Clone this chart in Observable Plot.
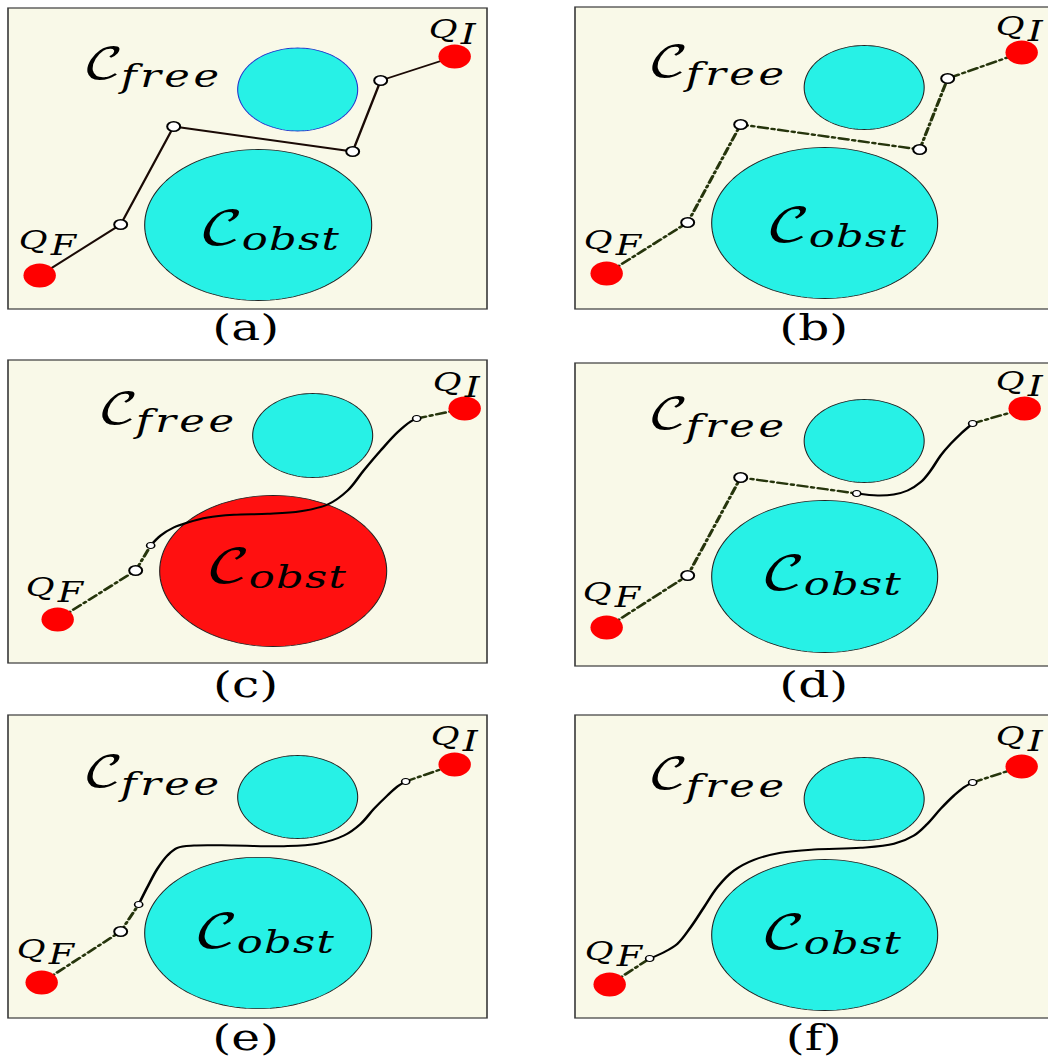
<!DOCTYPE html>
<html><head><meta charset="utf-8">
<script src="https://cdn.jsdelivr.net/npm/d3@7"></script>
<script src="https://cdn.jsdelivr.net/npm/@observablehq/plot@0.6"></script>
<style>html,body{margin:0;padding:0;background:#fff} #chart svg{display:block}</style>
</head><body><div id="chart"></div>
<script>
// ---- figure data (pixel-like coordinates, local to each panel frame) ----
const panelIds = ["a","b","c","d","e","f"];
const panelLeft = [8,575,8,575,8,575];
const panelTop = [8,7,360,363,715,715];
const panelWidth = [479,479,479,479,479,479];
const panelHeight = [301,302,303,303,303,303];
const captionText = ["(a)","(b)","(c)","(d)","(e)","(f)"];
const captionX = [237,238,237,238,237,238];
const captionY = [331,332,336,333,334,334];

const freeCx = [289,288.5,304,288.5,289,288.5];
const freeCy = [81,80,75,77.5,81.5,83.5];
const freeRx = [60,60,60,60,60,60];
const freeRy = [41.5,42,42,41.5,41.5,41.5];
const obstCx = [249.5,249,264.5,249,249.5,249];
const obstCy = [216.5,215.5,210.5,213,217.5,219.5];
const obstRx = [113.5,113,113.5,113,113.5,113];
const obstRy = [75.5,75.5,75.5,76,75.7,75.5];
const obstCollision = [false,false,true,false,false,false];

const qInit = [[446,48],[446,45],[456,48],[449,45],[446,49],[446,51]];
const qFinal = [[31,267],[31,266],[49,259],[31,264],[33,267],[34,269]];

const bigNodes = [
  [[112,216],[165,118],[344,143],[372,72]],
  [[112,215],[165,117],[344,142],[372,71]],
  [[127,210]],
  [[112,212],[165,114]],
  [[112,216]],
  []
];
const smallNodes = [
  [], [],
  [[142,185],[408,58]],
  [[281,130],[397,60]],
  [[130,189],[397,66]],
  [[74,243],[397,67]]
];

const solidPolylines = [
  {panel:0, pts:[[31,267],[112,216],[165,118],[344,143],[372,72],[446,48]]}
];
const dashPolylines = [
  {panel:1, pts:[[31,266],[112,215],[165,117],[344,142],[372,71],[446,45]]},
  {panel:2, pts:[[49,259],[127,210],[142,185]]},
  {panel:2, pts:[[408,58],[456,48]]},
  {panel:3, pts:[[31,264],[112,212],[165,114],[281,130]]},
  {panel:3, pts:[[397,60],[449,45]]},
  {panel:4, pts:[[33,267],[112,216],[130,189]]},
  {panel:4, pts:[[397,66],[446,49]]},
  {panel:5, pts:[[34,269],[74,243]]},
  {panel:5, pts:[[397,67],[446,51]]}
];
const smoothCurves = [
  {panel:2, pts:[[142,185],[152,175],[165,167],[179,162],[199,157],[225,154.3],[259,153.3],[292,150.7],[319,144],[339,130],[355,110],[372,90],[389,71.7],[402,61],[408,58]]},
  {panel:3, pts:[[281,130],[302,132],[318,131],[332,127],[345,118.7],[355,107],[365,92],[375,80.3],[385,70.3],[397,60]]},
  {panel:4, pts:[[130,189],[138.7,171.7],[148.7,153.3],[158.7,140],[168.7,132.3],[185.3,130],[225.3,130],[275.3,130.7],[308.7,128.3],[335.3,120],[352,108.3],[365.3,93.3],[378.7,80],[388.7,71],[397,66]]},
  {panel:5, pts:[[74,243],[88.3,236.7],[101.7,228.3],[115,211.7],[128.3,191.7],[141.7,171.7],[158.3,155],[178.3,144.3],[205,137.3],[238.3,134],[285,132.3],[318.3,128.3],[338.3,120],[351.7,108.3],[365,93.3],[378.3,80],[388.3,71.7],[397,67]]}
];

// label anchors (start x, baseline y)
const freeLabelX = [74,72,89,72,74,72];
const freeLabelY = [70,69,63,65,71,73];
const obstLabelX = [190,190,197,185,185,185];
const obstLabelY = [235,233,221,225,231,232];
const qiLabelX = [420,420,424,420,422,420];
const qiLabelY = [29,27,30,26,29,29];
const qfLabelX = [10,8,17,7,8,9];
const qfLabelY = [240,241,235,237,242,244];

// ---- rendering ----
const SX = 1.35;            // the original figure is stretched horizontally
const W = 1048, H = 1061, PW = W / SX;
const gx = (i, v) => panelLeft[i] + v;
const gy = (i, v) => panelTop[i] + v;

const frames = panelIds.map((id, i) => ({x1: panelLeft[i], x2: panelLeft[i] + panelWidth[i], y1: panelTop[i], y2: panelTop[i] + panelHeight[i]}));

function ellipseRows(cx, cy, rx, ry, keyPrefix, include) {
  const rows = [];
  panelIds.forEach((id, i) => {
    if (include && !include(i)) return;
    const N = 120;
    for (let k = 0; k < N; k++) {
      const t = 2 * Math.PI * k / N;
      rows.push({key: keyPrefix + id, panel: i, x: gx(i, cx[i] + rx[i] * Math.cos(t)), y: gy(i, cy[i] + ry[i] * Math.sin(t))});
    }
  });
  return rows;
}
const freeRows = ellipseRows(freeCx, freeCy, freeRx, freeRy, "free-");
const obstCyan = ellipseRows(obstCx, obstCy, obstRx, obstRy, "obst-", i => !obstCollision[i]);
const obstRed = ellipseRows(obstCx, obstCy, obstRx, obstRy, "obst-", i => obstCollision[i]);

const flatPaths = (list, prefix) => list.flatMap((p, j) => p.pts.map(([x, y]) => ({key: prefix + j, x: gx(p.panel, x), y: gy(p.panel, y)})));
const solidRows = flatPaths(solidPolylines, "s");
const dashRows = flatPaths(dashPolylines, "d");
const curveRows = flatPaths(smoothCurves, "c");

const qRows = panelIds.flatMap((id, i) => [qInit[i], qFinal[i]].map(([x, y]) => ({x: gx(i, x), y: gy(i, y)})));
const bigRows = bigNodes.flatMap((arr, i) => arr.map(([x, y]) => ({x: gx(i, x), y: gy(i, y)})));
const smallRows = smallNodes.flatMap((arr, i) => arr.map(([x, y]) => ({x: gx(i, x), y: gy(i, y)})));

const lab = (xs, ys) => panelIds.map((id, i) => ({x: gx(i, xs[i]), y: gy(i, ys[i])}));
const freeLab = lab(freeLabelX, freeLabelY);
const obstLab = lab(obstLabelX, obstLabelY);
const qiLab = lab(qiLabelX, qiLabelY);
const qfLab = lab(qfLabelX, qfLabelY);
const capRows = panelIds.map((id, i) => ({x: gx(i, captionX[i]), y: gy(i, captionY[i]), text: captionText[i]}));

const CAL = "'DejaVu Math TeX Gyre','DejaVu Serif',serif";
const MATH = "'DejaVu Serif',serif";
const textBase = {x: "x", y: "y", lineAnchor: "bottom", textAnchor: "start", fill: "#000"};

const chart = Plot.plot({
  width: PW, height: H,
  margin: 0,
  x: {domain: [0, W], range: [0, PW], axis: null},
  y: {domain: [0, H], range: [0, H], axis: null},
  style: {background: "#ffffff"},
  marks: [
    Plot.rect(frames, {x1: "x1", x2: "x2", y1: "y1", y2: "y2", fill: "#f9f9e8", stroke: "#3a3a3a", strokeWidth: 1.2}),
    Plot.line(freeRows, {x: "x", y: "y", z: "key", curve: "linear-closed", fill: "#27f1e6",
      stroke: d => d.panel === 0 ? "#2233cc" : "#222", strokeWidth: 0.8}),
    Plot.line(obstCyan, {x: "x", y: "y", z: "key", curve: "linear-closed", fill: "#27f1e6", stroke: "#222", strokeWidth: 0.8}),
    Plot.line(obstRed, {x: "x", y: "y", z: "key", curve: "linear-closed", fill: "#ff1010", stroke: "#222", strokeWidth: 0.8}),
    Plot.line(solidRows, {x: "x", y: "y", z: "key", stroke: "#1a0a05", strokeWidth: 1.8}),
    Plot.line(dashRows, {x: "x", y: "y", z: "key", stroke: "#26350c", strokeWidth: 2.4, strokeDasharray: "7,3.2,1.8,3.2"}),
    Plot.line(curveRows, {x: "x", y: "y", z: "key", curve: "catmull-rom", stroke: "#000", strokeWidth: 2}),
    Plot.dot(qRows, {x: "x", y: "y", r: 12, fill: "#ff0000"}),
    Plot.dot(bigRows, {x: "x", y: "y", r: 4.8, fill: "#fff", stroke: "#000", strokeWidth: 1.5}),
    Plot.dot(smallRows, {x: "x", y: "y", r: 3, fill: "#fff", stroke: "#000", strokeWidth: 1.2}),
    Plot.text(freeLab, {...textBase, text: () => "\u{1D49E}", fontFamily: CAL, fontSize: 42}),
    Plot.text(freeLab, {...textBase, text: () => "free", fontFamily: MATH, fontStyle: "italic", fontSize: 32, dx: 38 / SX, dy: 8}),
    Plot.text(obstLab, {...textBase, text: () => "\u{1D49E}", fontFamily: CAL, fontSize: 46}),
    Plot.text(obstLab, {...textBase, text: () => "obst", fontFamily: MATH, fontStyle: "italic", fontSize: 32, dx: 43 / SX, dy: 6}),
    Plot.text(qiLab, {...textBase, text: () => "Q", fontFamily: MATH, fontStyle: "italic", fontSize: 26}),
    Plot.text(qiLab, {...textBase, text: () => "I", fontFamily: MATH, fontStyle: "italic", fontSize: 28, dx: 32 / SX, dy: 6}),
    Plot.text(qfLab, {...textBase, text: () => "Q", fontFamily: MATH, fontStyle: "italic", fontSize: 26}),
    Plot.text(qfLab, {...textBase, text: () => "F", fontFamily: MATH, fontStyle: "italic", fontSize: 27, dx: 32 / SX, dy: 6}),
    Plot.text(capRows, {x: "x", y: "y", text: "text", lineAnchor: "bottom", textAnchor: "middle", fontFamily: MATH, fontSize: 36, fill: "#000"})
  ]
});
// widen the subscript letter spacing like the original math typesetting
chart.querySelectorAll("text").forEach(t => {
  if (t.textContent === "free") t.setAttribute("letter-spacing", "2.6");
  if (t.textContent === "obst") t.setAttribute("letter-spacing", "1");
});
chart.setAttribute("preserveAspectRatio", "none");
chart.setAttribute("width", W);
chart.setAttribute("height", H);
chart.style.width = W + "px";
chart.style.height = H + "px";
chart.style.maxWidth = "none";
document.getElementById("chart").appendChild(chart);
</script>
</body></html>
